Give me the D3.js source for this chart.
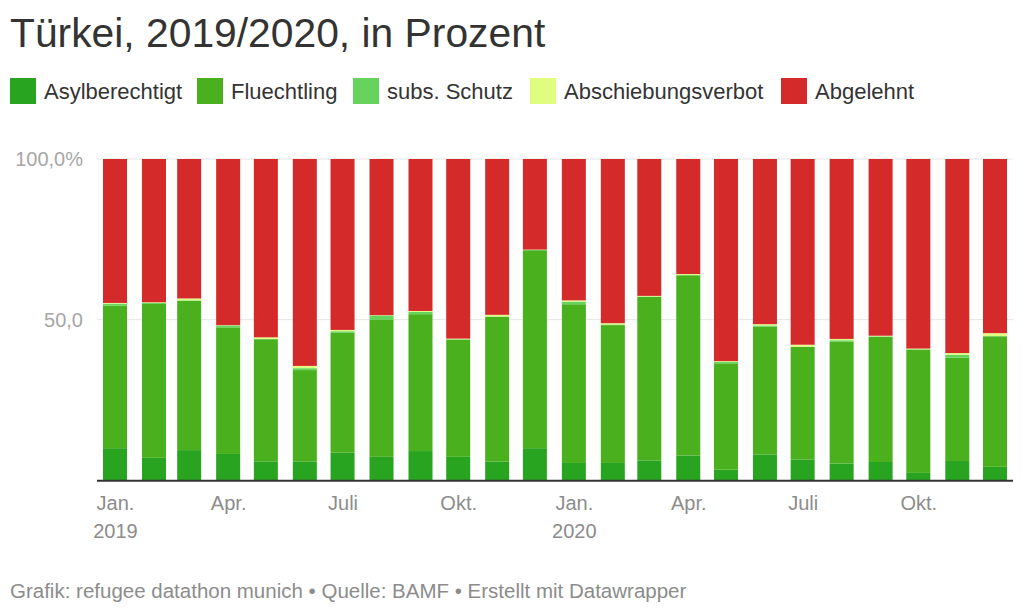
<!DOCTYPE html>
<html>
<head>
<meta charset="utf-8">
<script src="https://cdn.jsdelivr.net/npm/d3@7"></script>
<style>
  body { margin: 0; background: #fff; font-family: "Liberation Sans", Arial, sans-serif; }
  svg text { font-family: "Liberation Sans", Arial, sans-serif; }
</style>
</head>
<body>
<svg id="chart" width="1023" height="614"></svg>
<script>
// Data (percent)
const months = ['2019-01','2019-02','2019-03','2019-04','2019-05','2019-06','2019-07','2019-08','2019-09','2019-10','2019-11','2019-12',
                '2020-01','2020-02','2020-03','2020-04','2020-05','2020-06','2020-07','2020-08','2020-09','2020-10','2020-11','2020-12'];
const asylberechtigt = [10.0, 7.0, 9.4, 8.2, 5.9, 5.9, 8.6, 7.3, 9.1, 7.3, 5.8, 10.0, 5.4, 5.4, 6.2, 7.7, 3.3, 8.0, 6.5, 5.2, 5.7, 2.3, 6.0, 4.2];
const fluechtling    = [44.4, 47.9, 46.4, 39.4, 38.0, 28.4, 37.3, 42.6, 42.6, 36.5, 45.1, 61.6, 49.4, 42.9, 50.9, 56.1, 33.1, 39.8, 35.0, 37.9, 38.9, 38.3, 32.2, 40.6];
const subsSchutz     = [0.6, 0.3, 0.2, 0.6, 0.1, 0.6, 0.5, 1.4, 0.7, 0.1, 0.1, 0.1, 0.8, 0.2, 0.1, 0.1, 0.5, 0.4, 0.1, 0.5, 0.2, 0.2, 0.9, 0.1];
const abschiebung    = [0.2, 0.2, 0.6, 0.1, 0.5, 0.7, 0.4, 0.1, 0.3, 0.2, 0.5, 0.1, 0.4, 0.4, 0.2, 0.3, 0.2, 0.4, 0.6, 0.4, 0.2, 0.2, 0.5, 0.9];
const abgelehnt      = [44.8, 44.6, 43.4, 51.7, 55.5, 64.4, 53.2, 48.6, 47.3, 55.9, 48.5, 28.2, 44.0, 51.1, 42.6, 35.8, 62.9, 51.4, 57.8, 56.0, 55.0, 59.0, 60.4, 54.2];

const seriesNames = ['Asylberechtigt', 'Fluechtling', 'subs. Schutz', 'Abschiebungsverbot', 'Abgelehnt'];
const seriesColors = ['#28a421', '#4ab01e', '#66d45c', '#e1fd80', '#d52a2a'];
const xTicks = ['2019-01','2019-04','2019-07','2019-10','2020-01','2020-04','2020-07','2020-10'];
const xTickLabels = ['Jan.|2019','Apr.','Juli','Okt.','Jan.|2020','Apr.','Juli','Okt.'];
const yTicks = [50, 100];
const yTickLabels = ['50,0', '100,0%'];

const parse = d3.timeParse('%Y-%m');
const rows = months.map((m, i) => ({
  date: parse(m),
  'Asylberechtigt': asylberechtigt[i],
  'Fluechtling': fluechtling[i],
  'subs. Schutz': subsSchutz[i],
  'Abschiebungsverbot': abschiebung[i],
  'Abgelehnt': abgelehnt[i]
}));

const svg = d3.select('#chart');

// Title
svg.append('text')
  .attr('x', 10).attr('y', 47)
  .attr('font-size', 40.8)
  .attr('fill', '#333')
  .text('Türkei, 2019/2020, in Prozent');

// Legend
const legendX = [10, 197, 353, 530, 781];
const legend = svg.append('g');
seriesNames.forEach((name, i) => {
  legend.append('rect')
    .attr('x', legendX[i]).attr('y', 78)
    .attr('width', 26).attr('height', 26)
    .attr('fill', seriesColors[i]);
  legend.append('text')
    .attr('x', legendX[i] + 34).attr('y', 98.5)
    .attr('font-size', 22)
    .attr('fill', '#333')
    .text(name);
});

// Scales
const x = d3.scaleTime()
  .domain([parse('2019-01'), parse('2020-12')])
  .range([115, 995]);
const y = d3.scaleLinear().domain([0, 100]).range([480.3, 159]);
const barW = 24;

// Gridlines + y labels
const grid = svg.append('g');
yTicks.forEach((t, i) => {
  grid.append('line')
    .attr('x1', 97).attr('x2', 1013)
    .attr('y1', y(t)).attr('y2', y(t))
    .attr('stroke', '#e6e6e6').attr('stroke-width', 1);
  grid.append('text')
    .attr('x', 83).attr('y', y(t) + 7)
    .attr('text-anchor', 'end')
    .attr('font-size', 20)
    .attr('fill', '#a6a6a6')
    .text(yTickLabels[i]);
});

// Stacked bars
const stack = d3.stack().keys(seriesNames);
const stacked = stack(rows);

svg.append('g')
  .selectAll('g')
  .data(stacked)
  .join('g')
  .attr('fill', (d, i) => seriesColors[i])
  .selectAll('rect')
  .data(d => d)
  .join('rect')
  .attr('x', d => x(d.data.date) - barW / 2)
  .attr('y', d => y(d[1]))
  .attr('width', barW)
  .attr('height', d => Math.max(0, y(d[0]) - y(d[1])));

// Baseline
svg.append('line')
  .attr('x1', 97).attr('x2', 1013)
  .attr('y1', y(0) + 0.5).attr('y2', y(0) + 0.5)
  .attr('stroke', '#333').attr('stroke-width', 2);

// X axis
const xAxis = d3.axisBottom(x)
  .tickValues(xTicks.map(parse))
  .tickSize(0)
  .tickFormat('');
const xg = svg.append('g')
  .attr('transform', `translate(0,${y(0) + 2})`)
  .call(xAxis);
xg.select('.domain').remove();
xg.selectAll('.tick').each(function(d, i) {
  const parts = xTickLabels[i].split('|');
  const t = d3.select(this).select('text')
    .attr('font-size', 20)
    .attr('fill', '#8c8c8c')
    .attr('dy', null)
    .attr('y', 28);
  parts.forEach((p, j) => {
    t.append('tspan').attr('x', 0).attr('dy', j === 0 ? 0 : 28).text(p);
  });
});

// Footer
svg.append('text')
  .attr('x', 10).attr('y', 598)
  .attr('font-size', 20.5)
  .attr('fill', '#8c8c8c')
  .text('Grafik: refugee datathon munich • Quelle: BAMF • Erstellt mit Datawrapper');
</script>
</body>
</html>
